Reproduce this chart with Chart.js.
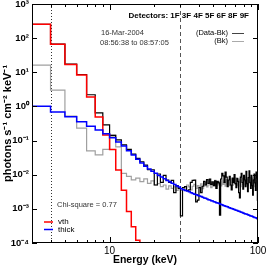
<!DOCTYPE html>
<html>
  <head>
    <title>Photon spectrum</title>
    <meta charset="utf-8">
    <style>
      body { margin: 0; background: #fff; }
    </style>
  </head>
  <body>
    <canvas id="specChart" width="266" height="266"></canvas>

    <script src="https://cdn.jsdelivr.net/npm/chart.js"></script>
    <script>
      // energy bin edges (keV), 1 keV bins
      var binEdges = [3, 4, 5, 6, 7, 8, 9, 10, 11, 12, 13, 14, 15, 16, 17, 18, 19, 20, 21, 22,
        23, 24, 25, 26, 27, 28, 29, 30, 31, 32, 33, 34, 35, 36, 37, 38, 39, 40, 41, 42,
        43, 44, 45, 46, 47, 48, 49, 50, 51, 52, 53, 54, 55, 56, 57, 58, 59, 60, 61, 62,
        63, 64, 65, 66, 67, 68, 69, 70, 71, 72, 73, 74, 75, 76, 77, 78, 79, 80, 81, 82,
        83, 84, 85, 86, 87, 88, 89, 90, 91, 92, 93, 94, 95, 96, 97, 98, 99, 100];

      var dataMinusBk = [
        255, 67, 17.5, 8.6, 2.2, 0.65, 0.29, 0.14, 0.105, 0.075,
        0.055, 0.040, 0.030, 0.024, 0.019, 0.0140, 0.0140, 0.0050, 0.0105, 0.0060,
        0.0095, 0.0070, 0.0060, 0.0068, 0.0030, 0.0048, 0.0040, 0.00062, 0.0042, 0.0045,
        0.0034, 0.0036, 0.0060, 0.0068, 0.0069, 0.0016, 0.0018, 0.0042, 0.0030, 0.0046,
        0.0064, 0.0050, 0.0072, 0.0056, 0.0075, 0.0052, 0.0062, 0.0048, 0.0066, 0.0040,
        0.0064, 0.0058, 0.00065, 0.0075, 0.0110, 0.0092, 0.0060, 0.0120, 0.0085, 0.0045,
        0.0070, 0.0090, 0.0050, 0.0036, 0.0080, 0.0060, 0.0100, 0.0055, 0.0042, 0.0078,
        0.0064, 0.0030, 0.0021, 0.0085, 0.0110, 0.0060, 0.0038, 0.0095, 0.0070, 0.0045,
        0.0125, 0.0055, 0.0032, 0.0082, 0.0130, 0.0060, 0.0040, 0.0095, 0.0048, 0.0025,
        0.0070, 0.0105, 0.0058, 0.0035, 0.0120, 0.0080, 0.0018];

      var background = [
        16.3, 3.0, 0.52, 0.23, 0.050, 0.038, 0.055, 0.15, 0.065, 0.011,
        0.0089, 0.0071, 0.0079, 0.0063, 0.0076, 0.0056, 0.0066, 0.0050, 0.0055, 0.0045,
        0.0050, 0.0038, 0.0047, 0.0040, 0.0044, 0.0035, 0.0042, 0.0035, 0.0042, 0.0038,
        0.0050, 0.0044, 0.0036, 0.0046, 0.0052, 0.0040, 0.0048, 0.0043, 0.0054, 0.0039,
        0.0047, 0.0058, 0.0044, 0.0050, 0.0062, 0.0042, 0.0055, 0.0048, 0.0068, 0.0045,
        0.0058, 0.0050, 0.0064, 0.0047, 0.0070, 0.0052, 0.0060, 0.0046, 0.0072, 0.0054,
        0.0066, 0.0048, 0.0075, 0.0058, 0.0049, 0.0070, 0.0055, 0.0080, 0.0052, 0.0065,
        0.0048, 0.0074, 0.0060, 0.0045, 0.0068, 0.0078, 0.0052, 0.0064, 0.0085, 0.0050,
        0.0062, 0.0074, 0.0048, 0.0070, 0.0058, 0.0082, 0.0054, 0.0066, 0.0080, 0.0049,
        0.0072, 0.0060, 0.0045, 0.0078, 0.0058, 0.0066, 0.0050];

      var vthModel = [254, 66, 17, 8.3, 1.9, 0.49, 0.146, 0.055, 0.0137, 0.0035,
        0.00083, 0.00030, 0.00012, 0.00003];

      var thickModel = [
        1.02, 0.69, 0.50, 0.355, 0.263, 0.204, 0.158, 0.120, 0.0912, 0.0692,
        0.0501, 0.0380, 0.0282, 0.0219, 0.0178, 0.0148, 0.0126, 0.0110, 0.00955, 0.00851,
        0.00759, 0.00676, 0.00617, 0.00562, 0.00513, 0.00468, 0.00437, 0.00389, 0.00363, 0.00347,
        0.00331, 0.00316, 0.00295, 0.00282, 0.00269, 0.00257, 0.00245, 0.00240, 0.00229, 0.00219,
        0.00209, 0.00204, 0.00195, 0.00186, 0.00182, 0.00174, 0.00170, 0.00162, 0.00158, 0.00151,
        0.00148, 0.00145, 0.00138, 0.00135, 0.00132, 0.00126, 0.00123, 0.00120, 0.00117, 0.00115,
        0.00110, 0.00107, 0.00105, 0.00102, 0.00100, 0.000977, 0.000955, 0.000933, 0.000912, 0.000891,
        0.000871, 0.000851, 0.000832, 0.000813, 0.000794, 0.000776, 0.000759, 0.000741, 0.000724, 0.000708,
        0.000708, 0.000692, 0.000676, 0.000661, 0.000646, 0.000631, 0.000617, 0.000617, 0.000603, 0.000589,
        0.000575, 0.000562, 0.000562, 0.000550, 0.000537, 0.000525, 0.000513];

      var yTickValues = [1e-4, 1e-3, 1e-2, 1e-1, 1, 10, 100, 1000];
      var yTickLabels = ['10⁻⁴', '10⁻³', '10⁻²', '10⁻¹', '10⁰', '10¹', '10²', '10³'];
      var xTickValues = [10, 100];
      var xTickLabels = ['10', '100'];
      var xMinorTicks = [4, 5, 6, 7, 8, 9, 20, 30, 40, 50, 60, 70, 80, 90];

      // fit interval markers (keV)
      var intervalMarkers = [4, 30];

      var FLOOR = 1e-8;

      // histogram outline: rise at first edge, hold each bin, drop after last edge
      function histPoints(values) {
        var pts = [{x: binEdges[0], y: FLOOR}];
        for (var i = 0; i < values.length; i++) {
          pts.push({x: binEdges[i], y: values[i]});
        }
        pts.push({x: binEdges[values.length], y: values[values.length - 1]});
        pts.push({x: binEdges[values.length], y: FLOOR});
        return pts;
      }

      var sans = "'Liberation Sans', Arial, sans-serif";

      var overlay = {
        id: 'overlay',
        beforeDatasetsDraw: function (chart) {
          var ctx = chart.ctx, a = chart.chartArea, xs = chart.scales.x;
          ctx.save();
          ctx.lineWidth = 1;
          intervalMarkers.forEach(function (e, i) {
            var px = Math.round(xs.getPixelForValue(e)) + 0.5;
            ctx.strokeStyle = i === 0 ? '#333' : '#555';
            ctx.setLineDash(i === 0 ? [1, 2] : [4, 3]);
            ctx.beginPath();
            ctx.moveTo(px, a.top);
            ctx.lineTo(px, a.bottom);
            ctx.stroke();
          });
          ctx.restore();
        },
        afterDatasetsDraw: function (chart) {
          var ctx = chart.ctx, a = chart.chartArea;
          var xs = chart.scales.x, ys = chart.scales.y;
          ctx.save();
          ctx.strokeStyle = '#000';
          ctx.lineWidth = 1;
          ctx.strokeRect(a.left + 0.5, a.top + 0.5, a.right - a.left - 1, a.bottom - a.top - 1);

          ctx.beginPath();
          yTickValues.forEach(function (v) {
            var py = Math.round(ys.getPixelForValue(v)) + 0.5;
            ctx.moveTo(a.left, py); ctx.lineTo(a.left + 5, py);
            ctx.moveTo(a.right, py); ctx.lineTo(a.right - 5, py);
          });
          xTickValues.forEach(function (v) {
            var px = Math.round(xs.getPixelForValue(v)) + 0.5;
            ctx.moveTo(px, a.bottom); ctx.lineTo(px, a.bottom - 6);
            ctx.moveTo(px, a.top); ctx.lineTo(px, a.top + 6);
          });
          xMinorTicks.forEach(function (v) {
            var px = Math.round(xs.getPixelForValue(v)) + 0.5;
            ctx.moveTo(px, a.bottom); ctx.lineTo(px, a.bottom - 3);
            ctx.moveTo(px, a.top); ctx.lineTo(px, a.top + 3);
          });
          ctx.stroke();

          ctx.fillStyle = '#000';
          ctx.textBaseline = 'middle';
          ctx.font = 'bold 8px ' + sans;
          ctx.textAlign = 'right';
          ctx.fillText('Detectors: 1F 3F 4F 5F 6F 8F 9F', a.right - 9, 16);

          ctx.fillStyle = '#333';
          ctx.font = '7.5px ' + sans;
          ctx.textAlign = 'left';
          ctx.fillText('16-Mar-2004', 101, 33);
          ctx.fillText('08:56:38 to 08:57:05', 100, 43);
          ctx.fillText('Chi-square = 0.77', 57, 205);

          ctx.fillStyle = '#000';
          ctx.textAlign = 'right';
          ctx.fillText('(Data-Bk)', 228, 33);
          ctx.fillText('(Bk)', 228, 41);
          ctx.strokeStyle = '#444';
          ctx.beginPath(); ctx.moveTo(232, 33.5); ctx.lineTo(244, 33.5); ctx.stroke();
          ctx.strokeStyle = '#aaa';
          ctx.beginPath(); ctx.moveTo(232, 41.5); ctx.lineTo(244, 41.5); ctx.stroke();

          ctx.font = '8px ' + sans;
          ctx.textAlign = 'left';
          ctx.lineWidth = 1.5;
          ctx.strokeStyle = 'rgb(255,0,0)';
          ctx.beginPath(); ctx.moveTo(44, 222); ctx.lineTo(53, 222); ctx.stroke();
          ctx.strokeStyle = 'rgb(0,0,255)';
          ctx.beginPath(); ctx.moveTo(44, 229.5); ctx.lineTo(53, 229.5); ctx.stroke();
          ctx.fillText('vth', 58, 222);
          ctx.fillText('thick', 58, 230);
          ctx.restore();
        }
      };

      var config = {
        type: 'line',
        data: {
          datasets: [{
            label: 'thick',
            data: histPoints(thickModel),
            borderColor: 'rgb(0, 0, 255)',
            borderWidth: 1.5
          }, {
            label: 'vth',
            data: histPoints(vthModel),
            borderColor: 'rgb(255, 0, 0)',
            borderWidth: 1.5
          }, {
            label: '(Data-Bk)',
            data: histPoints(dataMinusBk),
            borderColor: '#000',
            borderWidth: 1.2
          }, {
            label: '(Bk)',
            data: histPoints(background),
            borderColor: 'rgb(160, 160, 160)',
            borderWidth: 1.2
          }]
        },
        options: {
          responsive: false,
          animation: false,
          devicePixelRatio: 1,
          layout: {
            padding: {top: 4, right: 8, left: 0, bottom: 0}
          },
          elements: {
            point: {radius: 0},
            line: {stepped: 'before', tension: 0, fill: false}
          },
          scales: {
            x: {
              type: 'logarithmic',
              min: 3,
              max: 100,
              afterBuildTicks: function (s) {
                s.ticks = xTickValues.map(function (v) { return {value: v}; });
              },
              afterFit: function (s) {
                s.height = 23;
                s.paddingLeft = 0;
                s.paddingRight = 0;
              },
              grid: {display: false, drawTicks: false},
              border: {display: false},
              ticks: {
                autoSkip: false,
                maxRotation: 0,
                padding: 2,
                color: '#000',
                font: {family: sans, size: 10},
                callback: function (v) {
                  var i = xTickValues.indexOf(v);
                  return i < 0 ? '' : xTickLabels[i];
                }
              },
              title: {
                display: true,
                text: 'Energy (keV)',
                color: '#000',
                padding: 0,
                font: {family: sans, size: 10.5, weight: 'bold'}
              }
            },
            y: {
              type: 'logarithmic',
              min: 1e-4,
              max: 1e3,
              afterBuildTicks: function (s) {
                s.ticks = yTickValues.map(function (v) { return {value: v}; });
              },
              afterFit: function (s) {
                s.width = 32;
                s.paddingTop = 0;
                s.paddingBottom = 0;
              },
              grid: {display: false, drawTicks: false},
              border: {display: false},
              ticks: {
                padding: 3,
                color: '#000',
                font: {family: sans, size: 9.5, weight: 'bold'},
                callback: function (v) {
                  var i = yTickValues.indexOf(v);
                  return i < 0 ? '' : yTickLabels[i];
                }
              },
              title: {
                display: true,
                text: 'photons s⁻¹ cm⁻² keV⁻¹',
                color: '#000',
                padding: {top: 1, bottom: 0},
                font: {family: sans, size: 11, weight: 'bold'}
              }
            }
          },
          plugins: {
            legend: {display: false},
            tooltip: {enabled: false}
          }
        },
        plugins: [overlay]
      };

      var specChart = new Chart(document.getElementById('specChart'), config);
    </script>
  </body>
</html>
